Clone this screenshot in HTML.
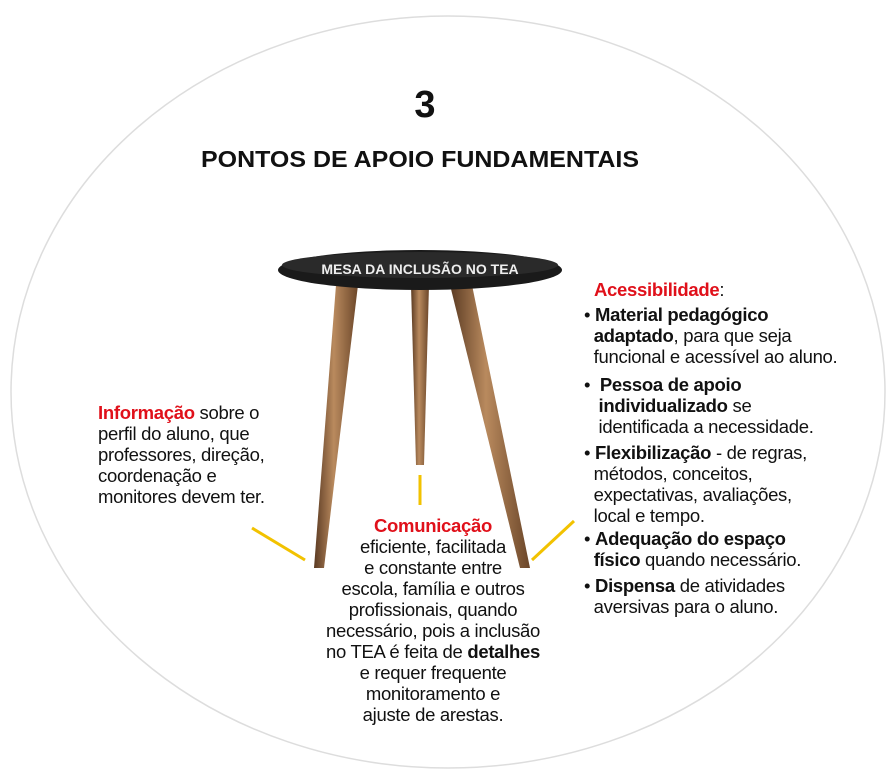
<!DOCTYPE html>
<html><head><meta charset="utf-8"><style>
body{margin:0;width:896px;height:777px;background:#fff;position:relative;overflow:hidden;font-family:"Liberation Sans",sans-serif;color:#111}
.t{position:absolute;font-size:18.5px;line-height:21px;white-space:nowrap;letter-spacing:-0.3px}
.r{color:#e0101a;font-weight:bold}
b{font-weight:bold}
</style></head><body>
<svg width="896" height="777" style="position:absolute;left:0;top:0">
<defs>
<linearGradient id="w" x1="0" x2="1"><stop offset="0" stop-color="#5a3a22"/><stop offset=".45" stop-color="#b98a5e"/><stop offset="1" stop-color="#6b4629"/></linearGradient>
</defs>
<ellipse cx="448" cy="392" rx="437" ry="376" fill="#fff" stroke="#ddd" stroke-width="1.5"/>
<polygon points="411,285 429,285 424,465 416,465" fill="url(#w)"/>
<polygon points="336,285 358,285 324,568 314,568" fill="url(#w)"/>
<polygon points="450,285 472,285 530,568 520,568" fill="url(#w)"/>
<ellipse cx="420" cy="270" rx="142" ry="20" fill="#1a1a1a"/>
<ellipse cx="420" cy="265" rx="138" ry="13" fill="#2a2a2a"/>
<text x="420" y="274" text-anchor="middle" font-family="Liberation Sans" font-weight="bold" font-size="14" fill="#eee">MESA DA INCLUSÃO NO TEA</text>
<text x="425" y="117" text-anchor="middle" font-family="Liberation Sans" font-weight="bold" font-size="38" fill="#111">3</text>
<text x="420" y="167" text-anchor="middle" font-family="Liberation Sans" font-weight="bold" font-size="23" fill="#111" textLength="438" lengthAdjust="spacingAndGlyphs">PONTOS DE APOIO FUNDAMENTAIS</text>
<g stroke="#f2c200" stroke-width="3">
<line x1="420" y1="475" x2="420" y2="505"/>
<line x1="252" y1="528" x2="305" y2="560"/>
<line x1="574" y1="521" x2="532" y2="560"/>
</g>
</svg>
<div class="t" style="left:98px;top:402px"><span class="r">Informação</span> sobre o<br>perfil do aluno, que<br>professores, direção,<br>coordenação e<br>monitores devem ter.</div>
<div class="t" style="left:283px;top:515px;text-align:center;width:300px"><span class="r">Comunicação</span><br>eficiente, facilitada<br>e constante entre<br>escola, família e outros<br>profissionais, quando<br>necessário, pois a inclusão<br>no TEA é feita de <b>detalhes</b><br>e requer frequente<br>monitoramento e<br>ajuste de arestas.</div>
<div class="t" style="left:594px;top:279px"><span class="r">Acessibilidade</span>:</div>
<div class="t" style="left:584px;top:304px">• <b>Material pedagógico</b><br>&nbsp;&nbsp;<b>adaptado</b>, para que seja<br>&nbsp;&nbsp;funcional e acessível ao aluno.</div>
<div class="t" style="left:584px;top:374px">• &nbsp;<b>Pessoa de apoio</b><br>&nbsp;&nbsp;&nbsp;<b>individualizado</b> se<br>&nbsp;&nbsp;&nbsp;identificada a necessidade.</div>
<div class="t" style="left:584px;top:442px">• <b>Flexibilização</b> - de regras,<br>&nbsp;&nbsp;métodos, conceitos,<br>&nbsp;&nbsp;expectativas, avaliações,<br>&nbsp;&nbsp;local e tempo.</div>
<div class="t" style="left:584px;top:528px">• <b>Adequação do espaço</b><br>&nbsp;&nbsp;<b>físico</b> quando necessário.</div>
<div class="t" style="left:584px;top:575px">• <b>Dispensa</b> de atividades<br>&nbsp;&nbsp;aversivas para o aluno.</div>
</body></html>
